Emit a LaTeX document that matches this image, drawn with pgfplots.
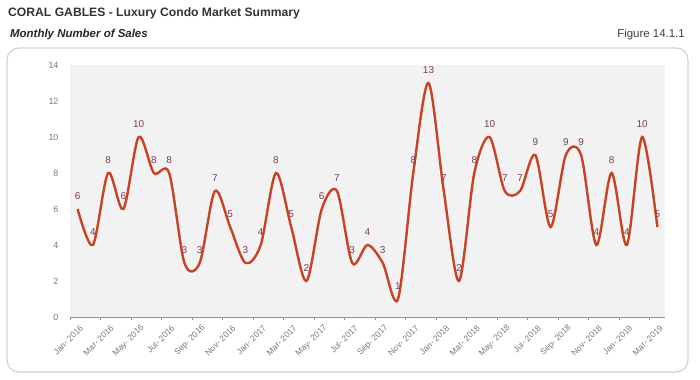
\documentclass[border=0pt]{standalone}
\usepackage{fontspec}
\setmainfont{Liberation Sans}
\usepackage{pgfplots}
\pgfplotsset{compat=1.18}
\definecolor{linec}{RGB}{200,66,36}
\definecolor{labc}{RGB}{122,62,92}
\definecolor{tickc}{RGB}{120,120,120}
\definecolor{bgc}{RGB}{242,242,242}
\definecolor{boxc}{RGB}{210,210,210}
\begin{document}
\begin{tikzpicture}
\path[use as bounding box] (0,0) rectangle (700bp,380bp);
\draw[boxc, line width=1.2bp, rounded corners=12bp] (7bp,8bp) rectangle (688bp,332bp);
\node[anchor=west, font=\bfseries\fontsize{12.2}{14}\selectfont, text=black!80, inner sep=0] at (8bp,367bp) {CORAL GABLES - Luxury Condo Market Summary};
\node[anchor=west, font=\bfseries\itshape\fontsize{11.5}{13}\selectfont, text=black!85, inner sep=0] at (10bp,345bp) {Monthly Number of Sales};
\node[anchor=east, font=\fontsize{11.5}{13}\selectfont, text=black!75, inner sep=0] at (685bp,345bp) {Figure 14.1.1};
\begin{axis}[
  at={(70bp,63bp)}, anchor=south west,
  scale only axis, width=595bp, height=252bp,
  xmin=0, xmax=39, ymin=0, ymax=14,
  clip=false,
  axis background/.style={fill=bgc},
  axis x line*=bottom,
  x axis line style={draw=tickc!80, line width=0.8bp},
  y axis line style={draw=none},
  xtick={0,2,...,38},
  xticklabels={Jan- 2016,Mar- 2016,May- 2016,Jul- 2016,Sep- 2016,Nov- 2016,Jan- 2017,Mar- 2017,May- 2017,Jul- 2017,Sep- 2017,Nov- 2017,Jan- 2018,Mar- 2018,May- 2018,Jul- 2018,Sep- 2018,Nov- 2018,Jan- 2019,Mar- 2019},
  xtick style={draw=tickc!80, line width=0.8bp},
  major tick length=3bp,
  tick align=outside,
  xticklabel style={rotate=45, anchor=east, font=\fontsize{8.5}{10}\selectfont, text=tickc, xshift=7bp, yshift=-13bp},
  ytick={0,2,...,14},
  ytick style={draw=none},
  yticklabel style={font=\fontsize{9}{11}\selectfont, text=tickc, xshift=-5bp},
  /pgf/number format/assume math mode=true,
  nodes near coords,
  nodes near coords style={anchor=south, font=\fontsize{10}{12}\selectfont, text=labc, yshift=7bp, inner sep=1bp},
]
\addplot[color=linec, line width=2.4bp, smooth, tension=0.5, mark=none] table {
x y
0.5 6
1.5 4
2.5 8
3.5 6
4.5 10
5.5 8
6.5 8
7.5 3
8.5 3
9.5 7
10.5 5
11.5 3
12.5 4
13.5 8
14.5 5
15.5 2
16.5 6
17.5 7
18.5 3
19.5 4
20.5 3
21.5 1
22.5 8
23.5 13
24.5 7
25.5 2
26.5 8
27.5 10
28.5 7
29.5 7
30.5 9
31.5 5
32.5 9
33.5 9
34.5 4
35.5 8
36.5 4
37.5 10
38.5 5
};
\end{axis}
\end{tikzpicture}
\end{document}
